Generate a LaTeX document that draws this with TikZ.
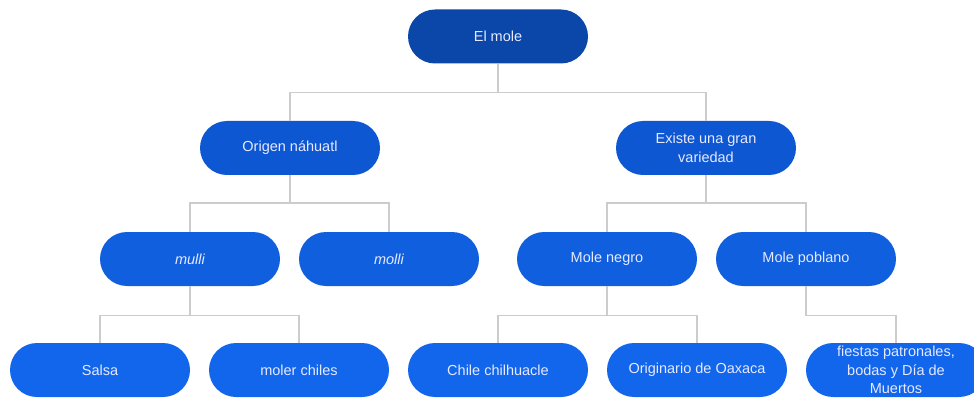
\documentclass[tikz,border=0pt]{standalone}
\usepackage{fontspec}
\setmainfont{Liberation Sans}
\definecolor{c0}{HTML}{0B47A8}
\definecolor{c1}{HTML}{0E57D2}
\definecolor{c2}{HTML}{0F5FDE}
\definecolor{c3}{HTML}{1166EC}
\definecolor{txt}{HTML}{E6E9FF}
\definecolor{ln}{HTML}{CCCCCC}
\tikzset{
  pill/.style={rounded corners=27pt, minimum width=180pt, minimum height=54pt, inner sep=0pt,
     text=txt, font=\fontsize{14.5}{18.5}\selectfont, align=center},
  lv0/.style={pill, fill=c0},
  lv1/.style={pill, fill=c1},
  lv2/.style={pill, fill=c2},
  lv3/.style={pill, fill=c3},
  conn/.style={draw=ln, line width=1.4pt}
}
\begin{document}
\begin{tikzpicture}[x=1pt,y=1pt]
\useasboundingbox (0,0) rectangle (974,-398);
\node[lv0] (root) at (498,-36.5) {El mole};
\node[lv1] (orig) at (290,-148) {Origen náhuatl};
\node[lv1] (exis) at (706,-148) {Existe una gran\\variedad};
\node[lv2] (mulli) at (190,-259) {\itshape mulli};
\node[lv2] (molli) at (389,-259) {\itshape molli};
\node[lv2] (negro) at (607,-259) {Mole negro};
\node[lv2] (pobl) at (806,-259) {Mole poblano};
\node[lv3] (salsa) at (100,-370) {Salsa};
\node[lv3] (moler) at (299,-370) {moler chiles};
\node[lv3] (chile) at (498,-370) {Chile chilhuacle};
\node[lv3] (oax) at (697,-370) {Originario de Oaxaca};
\node[lv3] (fiest) at (896,-370) {fiestas patronales,\\bodas y Día de\\Muertos};
% connectors
\draw[conn] (root.south) -- ++(0,-29) -| (orig.north);
\draw[conn] (root.south) -- ++(0,-29) -| (exis.north);
\draw[conn] (orig.south) -- ++(0,-28) -| (mulli.north);
\draw[conn] (orig.south) -- ++(0,-28) -| (molli.north);
\draw[conn] (exis.south) -- ++(0,-28) -| (negro.north);
\draw[conn] (exis.south) -- ++(0,-28) -| (pobl.north);
\draw[conn] (mulli.south) -- ++(0,-29) -| (salsa.north);
\draw[conn] (mulli.south) -- ++(0,-29) -| (moler.north);
\draw[conn] (negro.south) -- ++(0,-29) -| (chile.north);
\draw[conn] (negro.south) -- ++(0,-29) -| (oax.north);
\draw[conn] (pobl.south) -- ++(0,-29) -| (fiest.north);
\end{tikzpicture}
\end{document}
